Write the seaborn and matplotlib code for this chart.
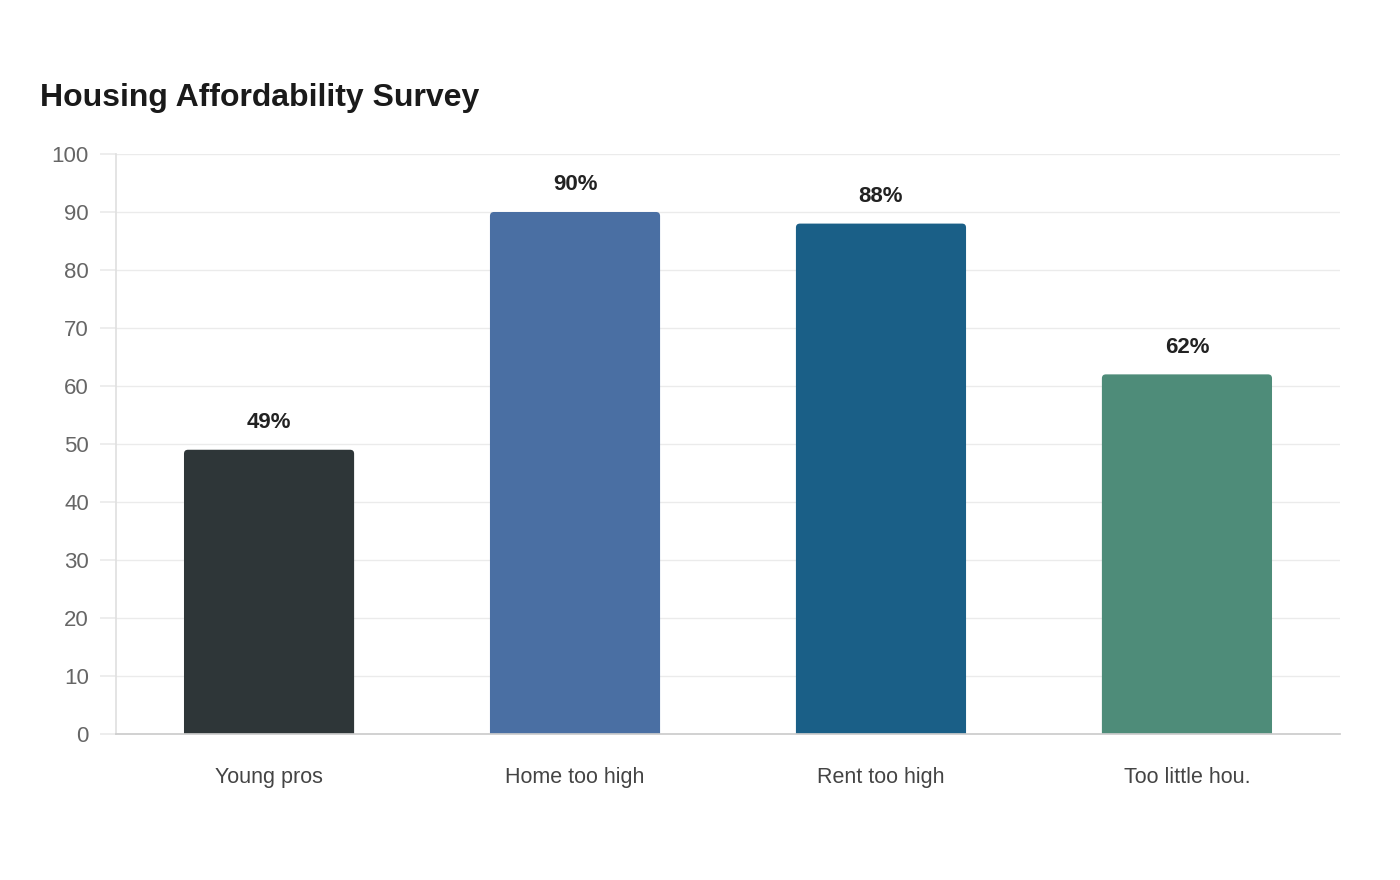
import matplotlib
matplotlib.use("Agg")
import matplotlib.pyplot as plt
from matplotlib.patches import FancyBboxPatch
import seaborn as sns
import pandas as pd

# data
categories = ["Young pros", "Home too high", "Rent too high", "Too little hou."]
values = [49, 90, 88, 62]
colors = ["#2e3638", "#4a6fa3", "#1a5f87", "#4e8c79"]

df = pd.DataFrame({"category": categories, "value": values})

sns.set_theme(style="white")
plt.rcParams["font.family"] = ["Liberation Sans", "DejaVu Sans"]

fig = plt.figure(figsize=(14, 8.8), dpi=100)
ax = fig.add_axes([0.0829, 0.166, 0.8742, 0.659])

sns.barplot(data=df, x="category", y="value", hue="category", palette=colors,
            width=0.556, legend=False, ax=ax, saturation=1)

# swap plain bars for bars with rounded corners
r_x = 4 / 306
for patch in list(ax.patches):
    x0, w, h = patch.get_x(), patch.get_width(), patch.get_height()
    fc = patch.get_facecolor()
    patch.remove()
    aspect = (4 / 5.8) / r_x
    rb = FancyBboxPatch((x0, -2), w, h + 2,
                        boxstyle=f"round,pad=0,rounding_size={r_x}",
                        mutation_aspect=aspect, facecolor=fc, edgecolor="none",
                        zorder=2)
    ax.add_patch(rb)

for i, v in enumerate(values):
    ax.text(i, v + 2.9, f"{v}%", ha="center", va="bottom", fontsize=16,
            fontweight="bold", color="#222222")

ax.set_xlim(-0.5, 3.5)
ax.set_ylim(0, 100)
ax.set_yticks(range(0, 101, 10))
ax.yaxis.grid(True, color="#ebebeb", linewidth=1)
ax.set_axisbelow(True)
ax.set_xlabel("")
ax.set_ylabel("")
for s in ["top", "right"]:
    ax.spines[s].set_visible(False)
ax.spines["left"].set_color("#e0e0e0")
ax.spines["bottom"].set_color("#cccccc")
ax.tick_params(axis="y", length=11.5, color="#ebebeb", labelsize=16,
               labelcolor="#666666", pad=8, left=True)
ax.tick_params(axis="x", length=0, labelsize=15.5, labelcolor="#444444", pad=24)

fig.text(40 / 1400, 1 - 98 / 880, "Housing Affordability Survey", fontsize=23,
         fontweight="bold", color="#1a1a1a", va="center", ha="left")

fig.savefig("out.png", dpi=100, facecolor="white")
